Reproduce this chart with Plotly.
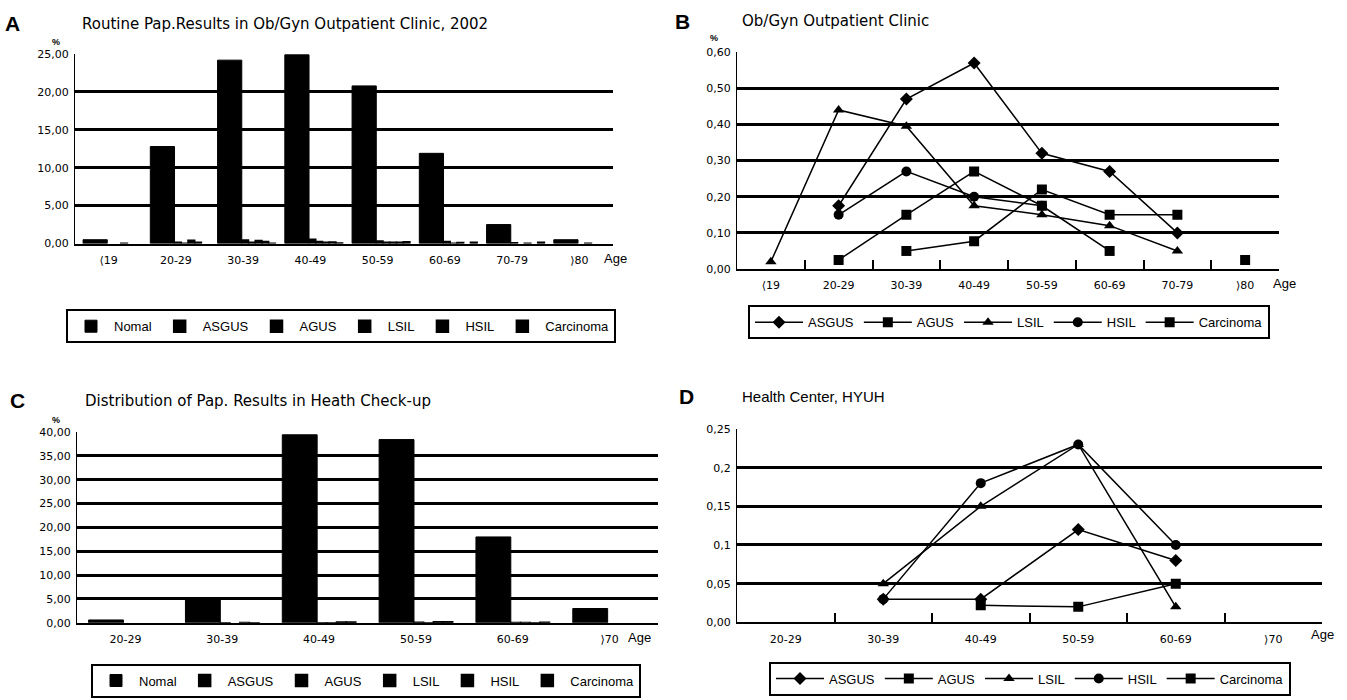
import plotly.graph_objects as go

# ---------------- data ----------------
ages_ab = ["⟨19", "20-29", "30-39", "40-49", "50-59", "60-69", "70-79", "⟩80"]
ages_cd = ["20-29", "30-39", "40-49", "50-59", "60-69", "⟩70"]
series = ["ASGUS", "AGUS", "LSIL", "HSIL", "Carcinoma"]

# Panel A: Nomal (%)
a_nomal = [0.5, 12.8, 24.2, 24.9, 20.8, 11.9, 2.5, 0.5]
# Panel B (also the small bars of panel A), %
b_asgus = [None, 0.175, 0.47, 0.57, 0.32, 0.27, 0.10, None]
b_agus = [None, 0.025, 0.15, 0.27, 0.175, 0.05, None, 0.025]
b_lsil = [0.02, 0.44, 0.395, 0.175, 0.15, 0.12, 0.05, None]
b_hsil = [None, 0.15, 0.27, 0.20, 0.175, None, None, None]
b_carc = [None, None, 0.05, 0.077, 0.22, 0.15, 0.15, None]

# Panel C: Nomal (%)
c_nomal = [0.6, 4.8, 39.4, 38.4, 18.0, 3.0]
# Panel D (also the small bars of panel C)
d_asgus = [None, 0.03, 0.03, 0.12, 0.08, None]
d_agus = [None, None, 0.022, 0.02, 0.05, None]
d_lsil = [None, 0.05, 0.15, 0.23, 0.02, None]
d_hsil = [None, 0.03, 0.18, 0.23, 0.10, None]
d_carc = [None, None, None, None, None, None]

a_ticks = [0, 5, 10, 15, 20, 25]
a_ticktext = ["0,00", "5,00", "10,00", "15,00", "20,00", "25,00"]
b_ticks = [0, 0.1, 0.2, 0.3, 0.4, 0.5, 0.6]
b_ticktext = ["0,00", "0,10", "0,20", "0,30", "0,40", "0,50", "0,60"]
c_ticks = [0, 5, 10, 15, 20, 25, 30, 35, 40]
c_ticktext = ["0,00", "5,00", "10,00", "15,00", "20,00", "25,00", "30,00", "35,00", "40,00"]
d_ticks = [0, 0.05, 0.1, 0.15, 0.2, 0.25]
d_ticktext = ["0,00", "0,05", "0,1", "0,15", "0,2", "0,25"]

FONT = "Liberation Sans, Arial, sans-serif"
TFONT = "DejaVu Sans, Liberation Sans, sans-serif"
W, H = 1347, 700


def px(x):
    return x / W


def py(y):
    return 1 - y / H


fig = go.Figure()

markers = {"ASGUS": "diamond", "AGUS": "square", "LSIL": "triangle-up",
           "HSIL": "circle", "Carcinoma": "square"}


def add_bars(xa, ya, cats, nomal, small, legend):
    fig.add_trace(go.Bar(x=cats, y=nomal, name="Nomal", xaxis=xa, yaxis=ya,
                         width=0.36, offset=-0.38, marker_color="black",
                         marker_line=dict(color="black", width=1), legend=legend))
    for k, (nm, vals) in enumerate(zip(series, small)):
        fig.add_trace(go.Bar(x=cats, y=vals, name=nm, xaxis=xa, yaxis=ya,
                             width=0.1, offset=-0.02 + 0.1 * k, marker_color="black",
                             marker_line=dict(color="black", width=1.5), legend=legend))


def add_lines(xa, ya, cats, vals_list, legend):
    for nm, vals in zip(series, vals_list):
        fig.add_trace(go.Scatter(x=cats, y=vals, name=nm, xaxis=xa, yaxis=ya,
                                 mode="lines+markers", connectgaps=False,
                                 line=dict(color="black", width=1.5),
                                 marker=dict(symbol=markers[nm], size=10, color="black"),
                                 legend=legend))


add_bars("x", "y", ages_ab, a_nomal, [b_asgus, b_agus, b_lsil, b_hsil, b_carc], "legend")
add_lines("x2", "y2", ages_ab, [b_asgus, b_agus, b_lsil, b_hsil, b_carc], "legend2")
add_bars("x3", "y3", ages_cd, c_nomal, [d_asgus, d_agus, d_lsil, d_hsil, d_carc], "legend3")
add_lines("x4", "y4", ages_cd, [d_asgus, d_agus, d_lsil, d_hsil, d_carc], "legend4")

tickfont = dict(family=TFONT, size=11, color="black")


def xaxis_cfg(dom, anchor, n, ticks):
    cfg = dict(domain=dom, anchor=anchor, type="category", range=[-0.5, n - 0.5],
               showline=True, linecolor="black", linewidth=2, showgrid=False,
               tickfont=tickfont, ticklabelstandoff=5, fixedrange=True)
    if ticks:
        cfg.update(ticks="inside", tickson="boundaries", ticklen=9, tickwidth=2, tickcolor="black")
    else:
        cfg.update(ticks="")
    return cfg


def yaxis_cfg(dom, anchor, rng, tv, tt):
    return dict(domain=dom, anchor=anchor, range=rng, tickvals=tv, ticktext=tt,
                showline=True, linecolor="black", linewidth=1, showgrid=True,
                gridcolor="black", gridwidth=2.5, zeroline=False, tickfont=tickfont,
                ticks="", ticklabelstandoff=3, fixedrange=True)


fig.update_layout(
    width=W, height=H, margin=dict(l=0, r=0, t=0, b=0),
    paper_bgcolor="white", plot_bgcolor="white", showlegend=True,
    barmode="overlay",
    font=dict(family=FONT, color="black"),
    xaxis=xaxis_cfg([px(75), px(613)], "y", 8, False),
    yaxis=yaxis_cfg([py(242), py(49)], "x", [0, 25], a_ticks, a_ticktext),
    xaxis2=xaxis_cfg([px(737), px(1279)], "y2", 8, True),
    yaxis2=yaxis_cfg([py(268), py(47)], "x2", [0, 0.6], b_ticks, b_ticktext),
    xaxis3=xaxis_cfg([px(77), px(658)], "y3", 6, False),
    yaxis3=yaxis_cfg([py(628.5), py(434)], "x3", [0, 40], c_ticks, c_ticktext),
    xaxis4=xaxis_cfg([px(737), px(1322)], "y4", 6, True),
    yaxis4=yaxis_cfg([py(628), py(431)], "x4", [0, 0.25], d_ticks, d_ticktext),
)

leg_common = dict(orientation="h", bordercolor="black", borderwidth=2, bgcolor="white",
                  font=dict(family=FONT, size=13, color="black"),
                  xanchor="left", yanchor="top",
                  itemclick=False, itemdoubleclick=False, tracegroupgap=0)
fig.update_layout(
    legend=dict(x=px(66), y=py(309), itemwidth=36, **leg_common),
    legend2=dict(x=px(748), y=py(305), itemwidth=48, **leg_common),
    legend3=dict(x=px(91), y=py(670), itemwidth=36, **leg_common),
    legend4=dict(x=px(769), y=py(668), itemwidth=48, **leg_common),
)

ann = []


def text(x, y, s, size=12, bold=False, xanchor="left", family=FONT):
    ann.append(dict(x=px(x), y=py(y), xref="paper", yref="paper",
                    text=("<b>%s</b>" % s) if bold else s,
                    showarrow=False, xanchor=xanchor, yanchor="middle",
                    font=dict(family=family, size=size, color="black")))


text(13, 18, "A", 21, True, "center")
text(80, 18, "Routine Pap.Results in Ob/Gyn Outpatient Clinic, 2002", 15, family=TFONT)
text(56, 37, "%", 9, True, "center")
text(615, 257, "Age", 13, xanchor="center")
text(683, 16, "B", 21, True, "center")
text(740, 15, "Ob/Gyn Outpatient Clinic", 15, family=TFONT)
text(714, 33, "%", 9, True, "center")
text(1284, 283, "Age", 13, xanchor="center")
text(17, 402, "C", 21, True, "center")
text(83, 402, "Distribution of Pap. Results in Heath Check-up", 15, family=TFONT)
text(56, 422, "%", 9, True, "center")
text(639, 643, "Age", 13, xanchor="center")
text(686, 398, "D", 21, True, "center")
text(740, 398, "Health Center, HYUH", 15)
text(1322, 640, "Age", 13, xanchor="center")
fig.update_layout(annotations=ann)

fig.write_html("out.html", config={"displayModeBar": False},
               post_script="document.body.style.margin='0px';document.body.style.overflow='hidden';")
